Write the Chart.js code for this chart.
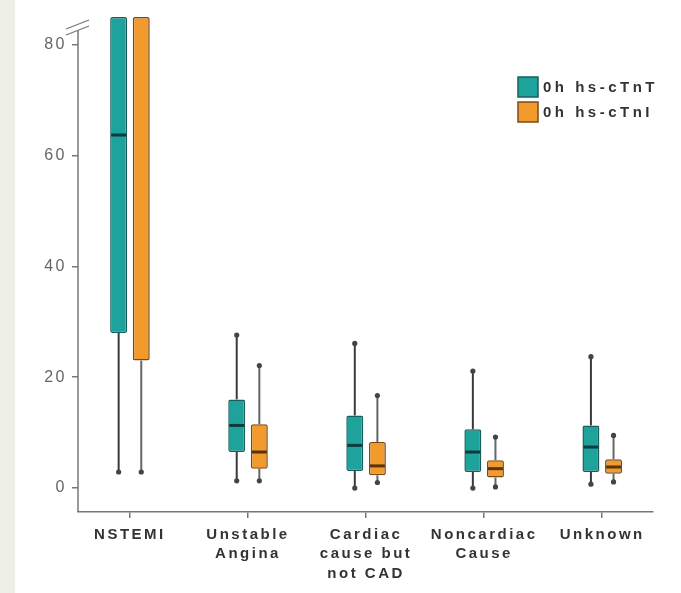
<!DOCTYPE html>
<html>
<head>
<meta charset="utf-8">
<script src="https://cdn.jsdelivr.net/npm/chart.js@4.4.1/dist/chart.umd.min.js"></script>
<style>
  html, body { margin: 0; padding: 0; background: #ffffff; }
  #strip { position: absolute; left: 0; top: 0; width: 15px; height: 593px; background: #eef0e5; }
  #c { position: absolute; left: 0; top: 0; }
</style>
</head>
<body>
<div id="strip"></div>
<canvas id="c" width="681" height="593"></canvas>
<script>
// categories (multi-line labels)
const categories = [['NSTEMI'], ['Unstable', 'Angina'], ['Cardiac', 'cause but', 'not CAD'], ['Noncardiac', 'Cause'], ['Unknown']];
const yTicks = [0, 20, 40, 60, 80];

// 0h hs-cTnT : whisker low, Q1, median, Q3, whisker high (NSTEMI is cut at the top of the axis)
const tntLow = [2.9, 1.3, 0.0, 0.0, 0.7];
const tntQ1 = [28.0, 6.5, 3.1, 2.9, 2.9];
const tntMed = [63.7, 11.3, 7.7, 6.5, 7.4];
const tntQ3 = [85, 16.0, 13.1, 10.6, 11.3];
const tntHigh = [null, 27.6, 26.1, 21.1, 23.7];

// 0h hs-cTnI
const tniLow = [2.9, 1.3, 1.0, 0.2, 1.1];
const tniQ1 = [23.0, 3.5, 2.3, 1.9, 2.6];
const tniMed = [null, 6.5, 4.0, 3.5, 3.8];
const tniQ3 = [85, 11.5, 8.3, 5.0, 5.2];
const tniHigh = [null, 22.1, 16.7, 9.2, 9.5];

const series = [
    { label: '0h hs-cTnT', low: tntLow, q1: tntQ1, med: tntMed, q3: tntQ3, high: tntHigh,
      fill: '#1ea39c', border: '#185f5b', median: '#0b3c3b', whisker: '#3a3a3a' },
    { label: '0h hs-cTnI', low: tniLow, q1: tniQ1, med: tniMed, q3: tniQ3, high: tniHigh,
      fill: '#f39a2c', border: '#7a4a14', median: '#5a3309', whisker: '#666' }
];

// letter spacing for all canvas text (the original lettering is wide)
const spacingPlugin = {
    id: 'spacing',
    beforeLayout(chart) { chart.ctx.letterSpacing = '2.5px'; },
    beforeDraw(chart) { chart.ctx.letterSpacing = '2.5px'; }
};

// whiskers, medians, axis line with break, legend
const boxPlugin = {
    id: 'boxParts',
    afterDatasetsDraw(chart) {
        const ctx = chart.ctx;
        const y = chart.scales.y;
        const area = chart.chartArea;
        ctx.save();

        series.forEach((s, d) => {
            const meta = chart.getDatasetMeta(d);
            meta.data.forEach((bar, i) => {
                const x = bar.x;
                ctx.strokeStyle = s.whisker;
                ctx.lineWidth = 2;
                ctx.fillStyle = '#444';
                // upper whisker
                if (s.high[i] !== null) {
                    ctx.beginPath();
                    ctx.moveTo(x, y.getPixelForValue(s.q3[i]));
                    ctx.lineTo(x, y.getPixelForValue(s.high[i]));
                    ctx.stroke();
                    ctx.beginPath();
                    ctx.arc(x, y.getPixelForValue(s.high[i]), 2.6, 0, Math.PI * 2);
                    ctx.fill();
                }
                // lower whisker
                ctx.beginPath();
                ctx.moveTo(x, y.getPixelForValue(s.q1[i]));
                ctx.lineTo(x, y.getPixelForValue(s.low[i]));
                ctx.stroke();
                ctx.beginPath();
                ctx.arc(x, y.getPixelForValue(s.low[i]), 2.6, 0, Math.PI * 2);
                ctx.fill();
                // median
                if (s.med[i] !== null) {
                    const ym = y.getPixelForValue(s.med[i]);
                    ctx.strokeStyle = s.median;
                    ctx.lineWidth = 3;
                    ctx.beginPath();
                    ctx.moveTo(x - bar.width / 2 + 1, ym);
                    ctx.lineTo(x + bar.width / 2 - 1, ym);
                    ctx.stroke();
                }
            });
        });

        // y axis line, starting below the break marks
        const ax = area.left;
        ctx.strokeStyle = '#777';
        ctx.lineWidth = 1.5;
        ctx.beginPath();
        ctx.moveTo(ax, 30);
        ctx.lineTo(ax, area.bottom);
        ctx.stroke();
        // break marks
        ctx.lineWidth = 1.2;
        [31, 25].forEach(cy => {
            ctx.beginPath();
            ctx.moveTo(ax - 12, cy + 4);
            ctx.lineTo(ax + 11, cy - 5);
            ctx.stroke();
        });

        // legend
        ctx.letterSpacing = '3.5px';
        ctx.font = 'bold 15px "Liberation Sans", Arial, sans-serif';
        ctx.textBaseline = 'middle';
        ctx.textAlign = 'left';
        series.forEach((s, d) => {
            const cy = 87 + d * 25;
            ctx.fillStyle = s.fill;
            ctx.strokeStyle = s.border;
            ctx.lineWidth = 1.5;
            ctx.beginPath();
            ctx.rect(518, cy - 10, 20, 20);
            ctx.fill();
            ctx.stroke();
            ctx.fillStyle = '#333';
            ctx.fillText(chart.data.datasets[d].label, 543, cy + 1);
        });
        ctx.restore();
    }
};

const datasets = series.map(s => ({
    label: s.label,
    data: categories.map((c, i) => ({ x: i, y: [s.q1[i], s.q3[i]] })),
    backgroundColor: s.fill,
    borderColor: s.border,
    borderWidth: 1.5,
    borderRadius: 2,
    borderSkipped: false,
    categoryPercentage: 0.383,
    barPercentage: 0.75
}));

const chart = new Chart(document.getElementById('c'), {
    type: 'bar',
    data: { datasets: datasets },
    plugins: [spacingPlugin, boxPlugin],
    options: {
        responsive: false,
        animation: false,
        layout: { padding: { top: 13, right: 28, left: 0, bottom: 0 } },
        plugins: {
            legend: { display: false },
            tooltip: { enabled: false }
        },
        scales: {
            x: {
                type: 'linear',
                min: -0.44,
                max: 4.43,
                offset: false,
                afterBuildTicks: scale => { scale.ticks = categories.map((c, i) => ({ value: i })); },
                afterFit: scale => { scale.height = 81; },
                grid: { display: true, offset: false, drawOnChartArea: false, drawTicks: true, tickLength: 6, color: '#777', lineWidth: 1.5 },
                border: { display: true, color: '#777', width: 1.5 },
                ticks: {
                    callback: v => categories[v],
                    autoSkip: false,
                    maxRotation: 0,
                    padding: 7,
                    color: '#333',
                    font: { family: '"Liberation Sans", Arial, sans-serif', size: 15, weight: 'bold', lineHeight: 1.3 }
                }
            },
            y: {
                min: -4.32,
                max: 85.43,
                afterBuildTicks: scale => { scale.ticks = yTicks.map(v => ({ value: v })); },
                afterFit: scale => { scale.width = 78; },
                grid: { display: true, drawOnChartArea: false, drawTicks: true, tickLength: 6, color: '#777', lineWidth: 1.5 },
                border: { display: false },
                ticks: {
                    padding: 5,
                    color: '#666',
                    font: { family: '"Liberation Sans", Arial, sans-serif', size: 16 }
                }
            }
        }
    }
});
</script>
</body>
</html>
